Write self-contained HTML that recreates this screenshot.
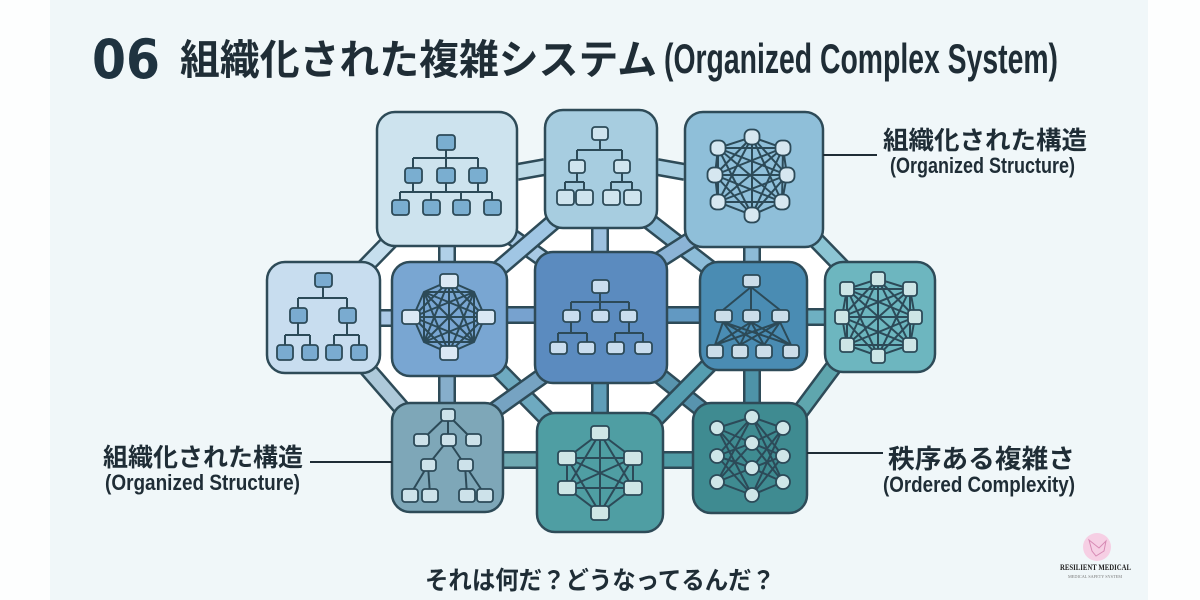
<!DOCTYPE html>
<html><head><meta charset="utf-8"><style>
html,body{margin:0;padding:0;background:#fdfefe;width:1200px;height:600px;overflow:hidden}
svg{display:block}
.jp{font-family:"Liberation Sans","Noto Sans CJK JP",sans-serif;font-weight:700;fill:#1f2d36}
.en{font-family:"Liberation Sans Narrow","Liberation Sans",sans-serif;font-weight:700;fill:#1f2d36}
</style></head><body>
<svg width="1200" height="600" viewBox="0 0 1200 600" xmlns="http://www.w3.org/2000/svg">
<rect x="0" y="0" width="1200" height="600" fill="#fdfefe"/>
<rect x="50" y="0" width="1098" height="600" fill="#f0f7f9"/>

<!-- Title -->
<text x="92" y="78" font-family="DejaVu Sans, Liberation Sans, sans-serif" font-weight="700" font-size="54" fill="#1f3340" textLength="68" lengthAdjust="spacingAndGlyphs">06</text>
<text class="jp" x="180" y="74" font-size="41" textLength="477" lengthAdjust="spacingAndGlyphs">組織化された複雑システム</text>
<text class="en" x="664" y="73" font-size="42" textLength="394" lengthAdjust="spacingAndGlyphs">(Organized Complex System)</text>

<!-- white interior of lattice -->
<polygon points="447,178 601,169 754,180 880,317 750,458 600,472 448,458 323,318" fill="#ffffff"/>

<!-- Connectors -->
<g fill="none" stroke-linecap="butt">
<path d="M517,172 L545,167" stroke="#2e4b58" stroke-width="18"/><path d="M517,172 L545,167" stroke="#bedbe8" stroke-width="13"/>
<path d="M657,167 L685,172" stroke="#2e4b58" stroke-width="18"/><path d="M657,167 L685,172" stroke="#a9cfe2" stroke-width="13"/>
<path d="M447,240 L447,268" stroke="#2e4b58" stroke-width="18"/><path d="M447,240 L447,268" stroke="#b0d0e8" stroke-width="13"/>
<path d="M600,222 L600,258" stroke="#2e4b58" stroke-width="18"/><path d="M600,222 L600,258" stroke="#9cc0de" stroke-width="13"/>
<path d="M752,240 L752,268" stroke="#2e4b58" stroke-width="18"/><path d="M752,240 L752,268" stroke="#8dbbd6" stroke-width="13"/>
<path d="M395,236 L360,272" stroke="#2e4b58" stroke-width="18"/><path d="M395,236 L360,272" stroke="#c6dfee" stroke-width="13"/>
<path d="M505,232 L553,266" stroke="#2e4b58" stroke-width="18"/><path d="M505,232 L553,266" stroke="#a8c9e4" stroke-width="13"/>
<path d="M558,218 L495,272" stroke="#2e4b58" stroke-width="18"/><path d="M558,218 L495,272" stroke="#a0c6e4" stroke-width="13"/>
<path d="M645,218 L712,270" stroke="#2e4b58" stroke-width="18"/><path d="M645,218 L712,270" stroke="#8cbcd8" stroke-width="13"/>
<path d="M697,236 L650,266" stroke="#2e4b58" stroke-width="18"/><path d="M697,236 L650,266" stroke="#8bb3d6" stroke-width="13"/>
<path d="M812,236 L845,270" stroke="#2e4b58" stroke-width="18"/><path d="M812,236 L845,270" stroke="#8cc5d4" stroke-width="13"/>
<path d="M375,318 L397,318" stroke="#2e4b58" stroke-width="18"/><path d="M375,318 L397,318" stroke="#acc9e6" stroke-width="13"/>
<path d="M500,315 L540,315" stroke="#2e4b58" stroke-width="18"/><path d="M500,315 L540,315" stroke="#77a2cf" stroke-width="13"/>
<path d="M662,315 L705,315" stroke="#2e4b58" stroke-width="18"/><path d="M662,315 L705,315" stroke="#6299c2" stroke-width="13"/>
<path d="M802,317 L830,317" stroke="#2e4b58" stroke-width="18"/><path d="M802,317 L830,317" stroke="#6eb0c2" stroke-width="13"/>
<path d="M365,366 L405,412" stroke="#2e4b58" stroke-width="18"/><path d="M365,366 L405,412" stroke="#aec9da" stroke-width="13"/>
<path d="M447,370 L447,410" stroke="#2e4b58" stroke-width="18"/><path d="M447,370 L447,410" stroke="#86aecb" stroke-width="13"/>
<path d="M497,368 L553,425" stroke="#2e4b58" stroke-width="18"/><path d="M497,368 L553,425" stroke="#6eaac0" stroke-width="13"/>
<path d="M548,372 L492,412" stroke="#2e4b58" stroke-width="18"/><path d="M548,372 L492,412" stroke="#76a3c2" stroke-width="13"/>
<path d="M600,378 L600,418" stroke="#2e4b58" stroke-width="18"/><path d="M600,378 L600,418" stroke="#5f9db8" stroke-width="13"/>
<path d="M655,372 L705,412" stroke="#2e4b58" stroke-width="18"/><path d="M655,372 L705,412" stroke="#5894ae" stroke-width="13"/>
<path d="M712,362 L650,425" stroke="#2e4b58" stroke-width="18"/><path d="M712,362 L650,425" stroke="#559db0" stroke-width="13"/>
<path d="M752,365 L752,410" stroke="#2e4b58" stroke-width="18"/><path d="M752,365 L752,410" stroke="#4e93a8" stroke-width="13"/>
<path d="M835,365 L800,412" stroke="#2e4b58" stroke-width="18"/><path d="M835,365 L800,412" stroke="#5fa6ae" stroke-width="13"/>
<path d="M498,460 L542,460" stroke="#2e4b58" stroke-width="18"/><path d="M498,460 L542,460" stroke="#6fa9b2" stroke-width="13"/>
<path d="M658,460 L698,460" stroke="#2e4b58" stroke-width="18"/><path d="M658,460 L698,460" stroke="#4f9ba5" stroke-width="13"/>
</g>

<!-- Boxes -->
<g stroke="#2e4b58" stroke-width="2.5">
<rect x="377" y="112" width="140" height="134" rx="18" fill="#cde3ee"/>
<rect x="545" y="110" width="112" height="118" rx="18" fill="#a7cde0"/>
<rect x="685" y="112" width="138" height="135" rx="18" fill="#8fbfd9"/>
<rect x="267" y="262" width="113" height="111" rx="18" fill="#c8ddef"/>
<rect x="392" y="262" width="115" height="114" rx="18" fill="#79a6d2"/>
<rect x="535" y="252" width="132" height="131" rx="18" fill="#5b8bbf"/>
<rect x="700" y="262" width="107" height="108" rx="18" fill="#4a8cb3"/>
<rect x="825" y="262" width="110" height="110" rx="18" fill="#6db6bf"/>
<rect x="392" y="403" width="111" height="109" rx="18" fill="#7ea7b8"/>
<rect x="537" y="413" width="126" height="119" rx="18" fill="#4f9ea3"/>
<rect x="693" y="403" width="114" height="110" rx="18" fill="#3f8b91"/>
</g>

<!-- Icons -->
<g stroke="#2c4a58" stroke-width="2" fill="none">
<path d="M446,150 V158 M413,158 H478 M413,158 V168 M446,158 V168 M478,158 V168 M413,183 V192 M446,183 V192 M478,183 V192 M400,192 H492 M400,192 V200 M431,192 V200 M461,192 V200 M492,192 V200"/>
<path d="M600,140 V150 M577,150 H622 M577,150 V160 M622,150 V160 M577,173 V182 M622,173 V182 M565,182 H584 M611,182 H632 M565,182 V190 M584,182 V190 M611,182 V190 M632,182 V190"/>
<path d="M752,137 L783,148 L787,175 L782,202 L752,215 L718,202 L715,175 L718,148 Z
M752,137 L787,175 M752,137 L782,202 M752,137 L752,215 M752,137 L718,202 M752,137 L715,175
M783,148 L782,202 M783,148 L752,215 M783,148 L718,202 M783,148 L715,175 M783,148 L718,148
M787,175 L752,215 M787,175 L718,202 M787,175 L715,175 M787,175 L718,148
M782,202 L718,202 M782,202 L715,175 M782,202 L718,148
M752,215 L715,175 M752,215 L718,148
M718,202 L718,148"/>
<path d="M323,287 V298 M298,298 H347 M298,298 V308 M347,298 V308 M298,323 V335 M347,323 V335 M285,335 H310 M334,335 H359 M285,335 V345 M310,335 V345 M334,335 V345 M359,335 V345"/>
<path d="M449,281 L474,292 L485,317 L474,342 L449,353 L424,342 L413,317 L424,292 Z
M449,281 L485,317 M449,281 L474,342 M449,281 L449,353 M449,281 L424,342 M449,281 L413,317
M474,292 L474,342 M474,292 L449,353 M474,292 L424,342 M474,292 L413,317 M474,292 L424,292
M485,317 L449,353 M485,317 L424,342 M485,317 L413,317 M485,317 L424,292
M474,342 L424,342 M474,342 L413,317 M474,342 L424,292
M449,353 L413,317 M449,353 L424,292
M424,342 L424,292"/>
<path d="M600,293 V302 M571,302 H629 M571,302 V310 M600,302 V310 M629,302 V310 M571,322 V333 M629,322 V333 M558,333 H587 M615,333 H643 M558,333 V342 M587,333 V342 M615,333 V342 M643,333 V342"/>
<path d="M751,287 L723,310 M751,287 L751,310 M751,287 L780,310
M723,322 L715,345 M723,322 L740,345 M723,322 L764,345 M723,322 L791,345
M751,322 L715,345 M751,322 L740,345 M751,322 L764,345 M751,322 L791,345
M780,322 L715,345 M780,322 L740,345 M780,322 L764,345 M780,322 L791,345"/>
<path d="M878,279 L910,289 L915,317 L910,345 L878,356 L847,345 L842,317 L847,289 Z
M878,279 L915,317 M878,279 L910,345 M878,279 L878,356 M878,279 L847,345 M878,279 L842,317
M910,289 L910,345 M910,289 L878,356 M910,289 L847,345 M910,289 L842,317 M910,289 L847,289
M915,317 L878,356 M915,317 L847,345 M915,317 L842,317 M915,317 L847,289
M910,345 L847,345 M910,345 L842,317 M910,345 L847,289
M878,356 L842,317 M878,356 L847,289
M847,345 L847,289"/>
<path d="M448,415 L422,440 M448,415 L448,440 M448,415 L473,440 M448,440 L428,465 M448,440 L465,465 M428,465 L410,495 M428,465 L430,495 M465,465 L467,495 M465,465 L485,495"/>
<path d="M600,433 L633,458 L633,488 L600,513 L567,488 L567,458 Z
M600,433 L633,488 M600,433 L600,513 M600,433 L567,488
M633,458 L600,513 M633,458 L567,488 M633,458 L567,458
M633,488 L567,488 M633,488 L567,458
M600,513 L567,458"/>
<path d="M717,428 L752,417 M717,428 L752,443 M717,428 L752,468 M717,428 L752,495
M717,456 L752,417 M717,456 L752,443 M717,456 L752,468 M717,456 L752,495
M717,482 L752,417 M717,482 L752,443 M717,482 L752,468 M717,482 L752,495
M783,428 L752,417 M783,428 L752,443 M783,428 L752,468 M783,428 L752,495
M783,456 L752,417 M783,456 L752,443 M783,456 L752,468 M783,456 L752,495
M783,482 L752,417 M783,482 L752,443 M783,482 L752,468 M783,482 L752,495"/>
</g>

<!-- Nodes -->
<g stroke="#2c4a58" stroke-width="1.8">
<g fill="#7aaed0">
<rect x="437" y="135" width="18" height="15" rx="3"/>
<rect x="405" y="168" width="17" height="15" rx="3"/><rect x="437" y="168" width="18" height="15" rx="3"/><rect x="469" y="168" width="18" height="15" rx="3"/>
<rect x="392" y="200" width="17" height="15" rx="3"/><rect x="423" y="200" width="17" height="15" rx="3"/><rect x="453" y="200" width="17" height="15" rx="3"/><rect x="484" y="200" width="17" height="15" rx="3"/>
</g>
<g fill="#cfe4ee">
<rect x="592" y="127" width="16" height="13" rx="3"/>
<rect x="569" y="160" width="16" height="13" rx="3"/><rect x="614" y="160" width="16" height="13" rx="3"/>
<rect x="557" y="190" width="17" height="15" rx="3"/><rect x="576" y="190" width="17" height="15" rx="3"/><rect x="603" y="190" width="17" height="15" rx="3"/><rect x="624" y="190" width="17" height="15" rx="3"/>
</g>
<g fill="#d6e7f0">
<rect x="744.5" y="129.5" width="15" height="15" rx="6"/><rect x="775.5" y="140.5" width="15" height="15" rx="6"/><rect x="779.5" y="167.5" width="15" height="15" rx="6"/><rect x="774.5" y="194.5" width="15" height="15" rx="6"/>
<rect x="744.5" y="207.5" width="15" height="15" rx="6"/><rect x="710.5" y="194.5" width="15" height="15" rx="6"/><rect x="707.5" y="167.5" width="15" height="15" rx="6"/><rect x="710.5" y="140.5" width="15" height="15" rx="6"/>
</g>
<g fill="#7aabd0">
<rect x="315" y="273" width="17" height="14" rx="3"/>
<rect x="290" y="308" width="17" height="15" rx="3"/><rect x="339" y="308" width="17" height="15" rx="3"/>
<rect x="277" y="345" width="16" height="15" rx="3"/><rect x="302" y="345" width="16" height="15" rx="3"/><rect x="326" y="345" width="16" height="15" rx="3"/><rect x="351" y="345" width="16" height="15" rx="3"/>
</g>
<g fill="#dae8f4">
<rect x="440" y="274" width="18" height="14" rx="3"/><rect x="402" y="310" width="18" height="14" rx="3"/><rect x="477" y="310" width="18" height="14" rx="3"/><rect x="440" y="346" width="18" height="14" rx="3"/>
</g>
<g fill="#c9ddee">
<rect x="592" y="280" width="17" height="13" rx="3"/>
<rect x="563" y="310" width="17" height="12" rx="3"/><rect x="592" y="310" width="17" height="12" rx="3"/><rect x="620" y="310" width="17" height="12" rx="3"/>
<rect x="550" y="342" width="17" height="12" rx="3"/><rect x="578" y="342" width="17" height="12" rx="3"/><rect x="607" y="342" width="17" height="12" rx="3"/><rect x="635" y="342" width="17" height="12" rx="3"/>
</g>
<g fill="#cbdde9">
<rect x="743" y="275" width="17" height="12" rx="3"/>
<rect x="715" y="310" width="17" height="12" rx="3"/><rect x="743" y="310" width="17" height="12" rx="3"/><rect x="772" y="310" width="17" height="12" rx="3"/>
<rect x="707" y="345" width="16" height="13" rx="3"/><rect x="732" y="345" width="16" height="13" rx="3"/><rect x="756" y="345" width="16" height="13" rx="3"/><rect x="783" y="345" width="16" height="13" rx="3"/>
</g>
<g fill="#cde5e6">
<rect x="871" y="272" width="14" height="14" rx="3"/><rect x="840" y="282" width="14" height="14" rx="3"/><rect x="903" y="282" width="14" height="14" rx="3"/>
<rect x="835" y="310" width="14" height="14" rx="3"/><rect x="908" y="310" width="14" height="14" rx="3"/>
<rect x="840" y="338" width="14" height="14" rx="3"/><rect x="903" y="338" width="14" height="14" rx="3"/><rect x="871" y="349" width="14" height="14" rx="3"/>
</g>
<g fill="#cde2ea">
<rect x="441" y="409" width="14" height="12" rx="3"/>
<rect x="414" y="434" width="15" height="12" rx="3"/><rect x="441" y="434" width="15" height="12" rx="3"/><rect x="466" y="434" width="15" height="12" rx="3"/>
<rect x="421" y="459" width="15" height="12" rx="3"/><rect x="458" y="459" width="15" height="12" rx="3"/>
<rect x="402" y="489" width="16" height="13" rx="3"/><rect x="422" y="489" width="16" height="13" rx="3"/><rect x="459" y="489" width="16" height="13" rx="3"/><rect x="477" y="489" width="16" height="13" rx="3"/>
</g>
<g fill="#cfe6e6">
<rect x="591" y="426" width="18" height="14" rx="3"/><rect x="558" y="451" width="18" height="14" rx="3"/><rect x="624" y="451" width="18" height="14" rx="3"/>
<rect x="558" y="481" width="18" height="14" rx="3"/><rect x="624" y="481" width="18" height="14" rx="3"/><rect x="591" y="506" width="18" height="14" rx="3"/>
</g>
<g fill="#cfe6e8">
<circle cx="717" cy="428" r="7"/><circle cx="717" cy="456" r="7"/><circle cx="717" cy="482" r="7"/>
<circle cx="752" cy="417" r="7"/><circle cx="752" cy="443" r="7"/><circle cx="752" cy="468" r="7"/><circle cx="752" cy="495" r="7"/>
<circle cx="783" cy="428" r="7"/><circle cx="783" cy="456" r="7"/><circle cx="783" cy="482" r="7"/>
</g>
</g>

<!-- Label lines -->
<g stroke="#1f2d36" stroke-width="2">
<line x1="823" y1="155" x2="877" y2="155"/>
<line x1="310" y1="462" x2="392" y2="462"/>
<line x1="807" y1="453" x2="883" y2="453"/>
</g>

<!-- Labels -->
<text class="jp" x="883" y="149" font-size="25" textLength="204" lengthAdjust="spacingAndGlyphs">組織化された構造</text>
<text class="en" x="890" y="173" font-size="22" textLength="185" lengthAdjust="spacingAndGlyphs">(Organized Structure)</text>
<text class="jp" x="103" y="466" font-size="25" textLength="200" lengthAdjust="spacingAndGlyphs">組織化された構造</text>
<text class="en" x="105" y="490" font-size="22" textLength="195" lengthAdjust="spacingAndGlyphs">(Organized Structure)</text>
<text class="jp" x="888" y="468" font-size="26" textLength="187" lengthAdjust="spacingAndGlyphs">秩序ある複雑さ</text>
<text class="en" x="883" y="492" font-size="22" textLength="192" lengthAdjust="spacingAndGlyphs">(Ordered Complexity)</text>

<!-- Bottom question -->
<text class="jp" x="425" y="589" font-size="25" textLength="350" lengthAdjust="spacingAndGlyphs">それは何だ？どうなってるんだ？</text>

<!-- Logo -->
<circle cx="1097" cy="547" r="14" fill="#f6cfe4"/>
<path d="M1089,540 L1099,548 L1106,541 L1104,551 L1096,556 L1092,551 Z" fill="none" stroke="#d78ab4" stroke-width="1"/>
<text x="1060" y="570" font-family="Liberation Serif, serif" font-weight="700" font-size="8" fill="#222" textLength="71" lengthAdjust="spacingAndGlyphs">RESILIENT MEDICAL</text>
<text x="1068" y="578" font-family="Liberation Serif, serif" font-size="4" fill="#777" textLength="54" lengthAdjust="spacingAndGlyphs">MEDICAL SAFETY SYSTEM</text>
</svg>
</body></html>
